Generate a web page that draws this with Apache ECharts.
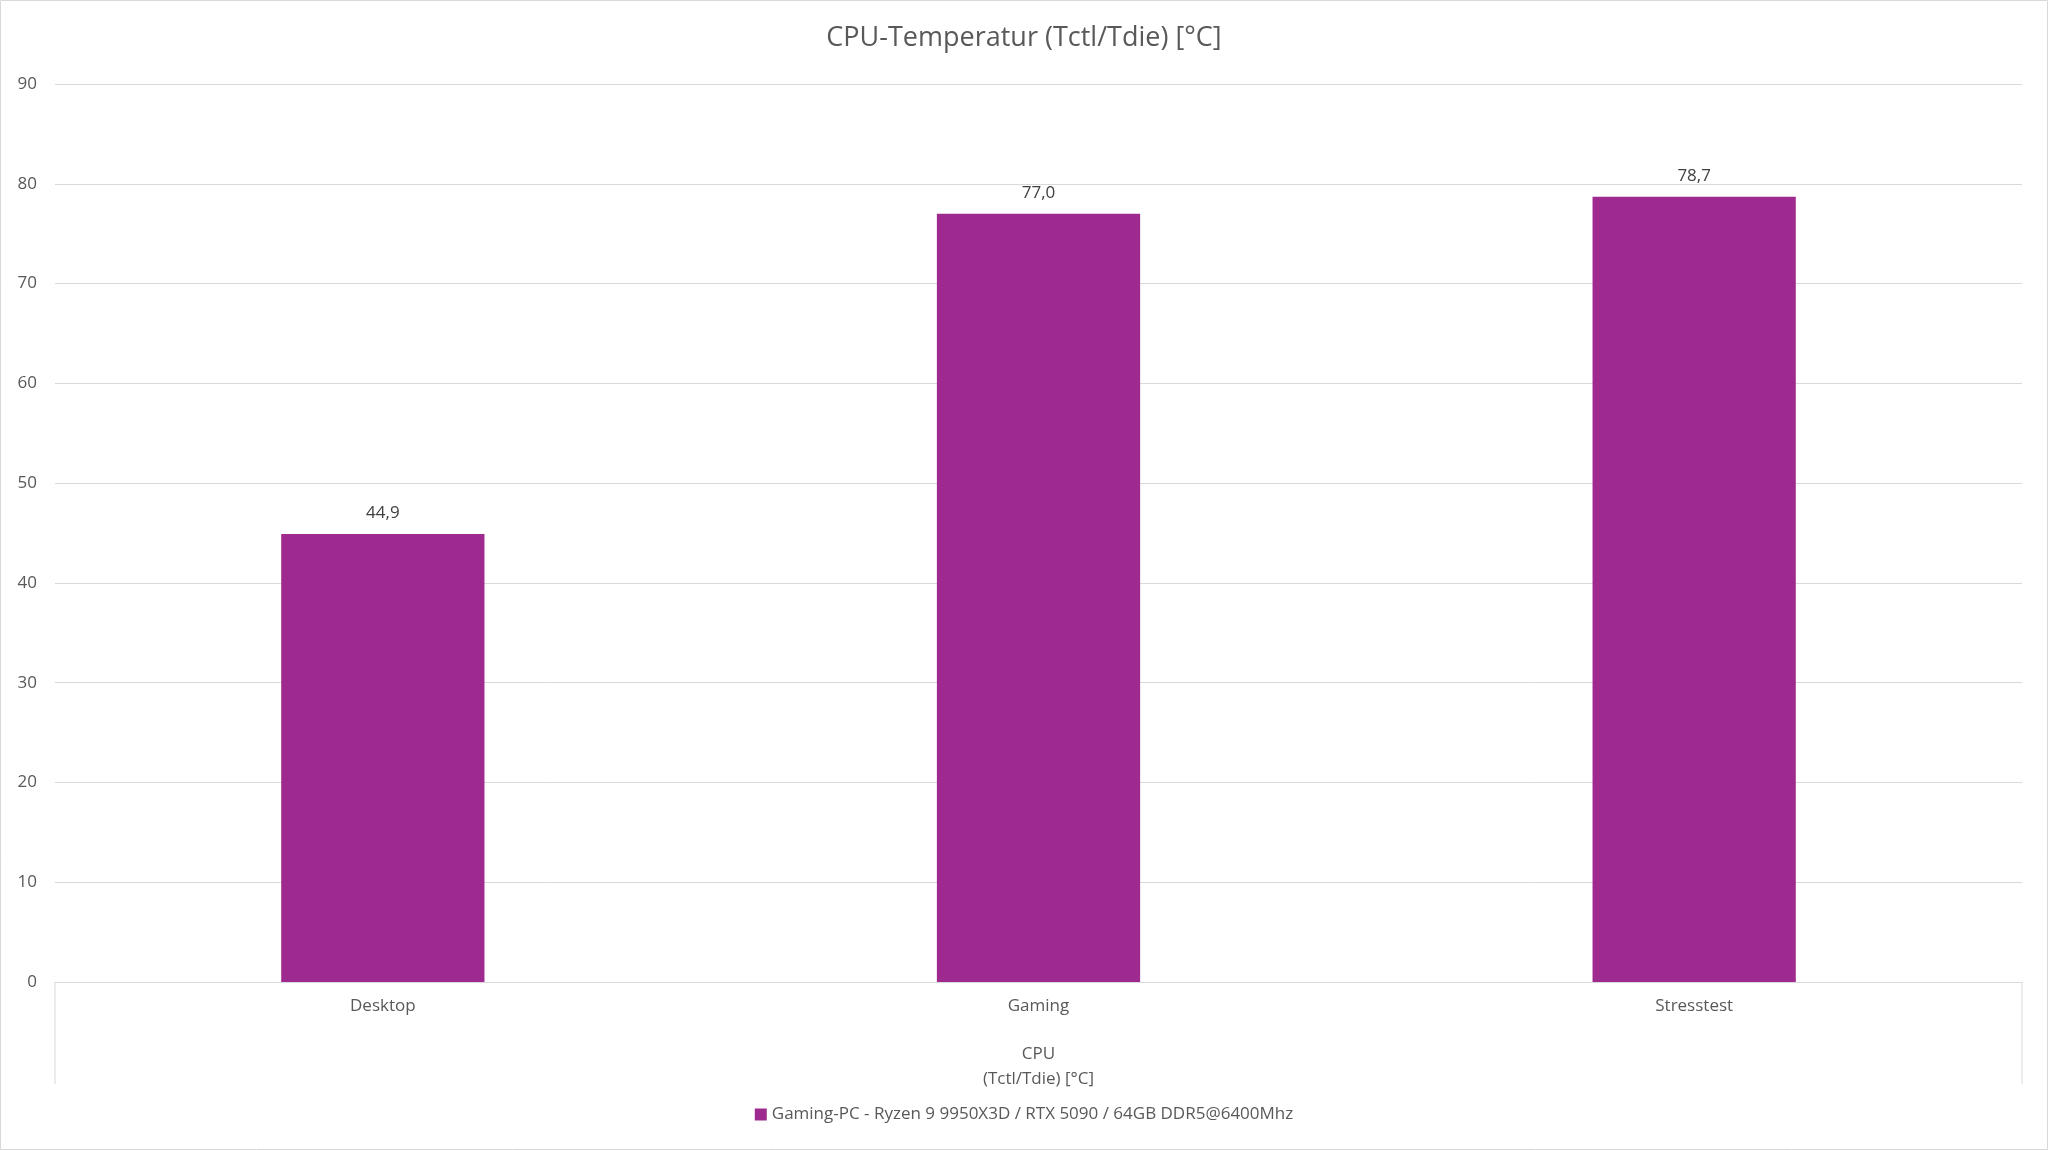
<!DOCTYPE html>
<html><head><meta charset="utf-8">
<script src="https://cdn.jsdelivr.net/npm/echarts@6/dist/echarts.min.js"></script>
<style>html,body{margin:0;padding:0;background:#fff}#c{width:2048px;height:1150px}</style>
</head><body><div id="c"></div>
<script>
const categories = ['Desktop', 'Gaming', 'Stresstest'];
const values = [44.9, 77.0, 78.7];
const seriesName = 'Gaming-PC - Ryzen 9 9950X3D / RTX 5090 / 64GB DDR5@6400Mhz';
const chart = echarts.init(document.getElementById('c'));
const font = 'Open Sans';
chart.setOption({
  animation: false,
  textStyle: { fontFamily: font },
  title: { text: 'CPU-Temperatur (Tctl/Tdie) [°C]', left: 'center', top: 20,
    textStyle: { fontFamily: font, fontSize: 27, fontWeight: 'normal', color: '#595959' } },
  grid: { left: 55, right: 26, top: 84, bottom: 168 },
  legend: { bottom: 22, itemWidth: 12, itemHeight: 12, icon: 'rect',
    textStyle: { fontFamily: font, fontSize: 17, color: '#595959' } },
  xAxis: { type: 'category', data: categories,
    name: 'CPU\n(Tctl/Tdie) [°C]', nameLocation: 'middle', nameGap: 60,
    nameTextStyle: { fontFamily: font, fontSize: 17, color: '#595959', lineHeight: 25 },
    axisLine: { lineStyle: { color: '#d9d9d9' } }, axisTick: { show: false },
    axisLabel: { fontSize: 17, color: '#595959', margin: 16 } },
  yAxis: { type: 'value', min: 0, max: 90, interval: 10,
    axisLabel: { fontSize: 17, color: '#595959', margin: 18 },
    splitLine: { lineStyle: { color: '#d9d9d9' } } },
  series: [{ name: seriesName, type: 'bar', data: values, barWidth: '31%',
    itemStyle: { color: '#9E2A8F' },
    label: { show: true, position: 'top', fontSize: 17, color: '#404040', distance: 12,
      formatter: p => p.value.toFixed(1).replace('.', ',') } }],
  graphic: [
    { type: 'line', shape: { x1: 55, y1: 982, x2: 55, y2: 1084 }, style: { stroke: '#d9d9d9', lineWidth: 1 } },
    { type: 'line', shape: { x1: 2022, y1: 982, x2: 2022, y2: 1084 }, style: { stroke: '#d9d9d9', lineWidth: 1 } },
    { type: 'rect', shape: { x: 0.5, y: 0.5, width: 2047, height: 1149 }, style: { fill: 'none', stroke: '#d9d9d9' } }
  ]
});
</script></body></html>
